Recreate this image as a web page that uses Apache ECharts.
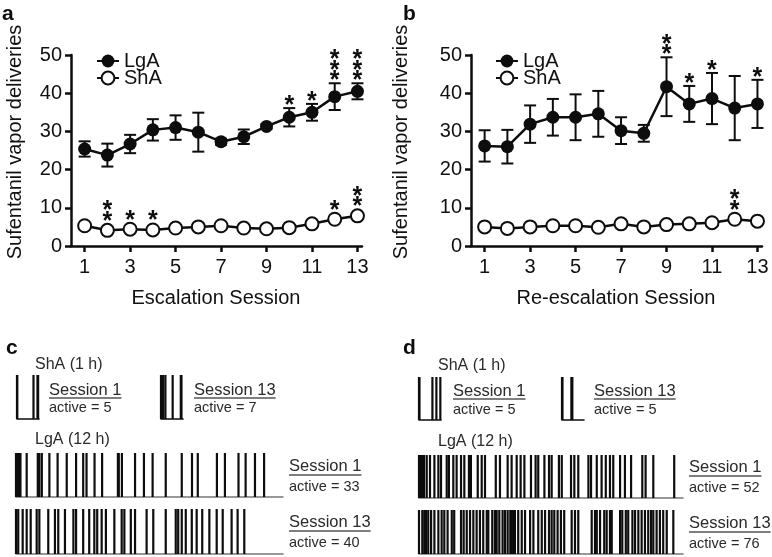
<!DOCTYPE html>
<html><head><meta charset="utf-8">
<script src="https://cdn.jsdelivr.net/npm/echarts@6/dist/echarts.min.js"></script>
<style>html,body{margin:0;padding:0;background:#fff}#c{width:772px;height:557px}</style>
</head><body><div id="c"></div>
<script>
// ---------- data ----------
const sessions = [1,2,3,4,5,6,7,8,9,10,11,12,13];
const xTickLabels = [1,3,5,7,9,11,13];
const yTicks = [0,10,20,30,40,50];

// panel a: escalation
const aLgAMean = [25.4,23.8,26.7,30.4,31.0,29.8,27.3,28.6,31.3,33.7,35.0,39.1,40.5];
const aLgAErr  = [2.0,3.0,2.4,2.8,3.2,5.1,0.8,1.9,0.6,2.4,2.2,3.5,2.1];
const aShAMean = [5.3,4.1,4.4,4.2,4.7,5.0,5.3,4.7,4.5,4.8,5.8,7.0,7.9];
const aLgAStars = [0,0,0,0,0,0,0,0,0,1,1,3,3];
const aShAStars = [0,2,1,1,0,0,0,0,0,0,0,1,2];

// panel b: re-escalation
const bLgAMean = [26.2,26.0,31.9,33.7,33.7,34.6,30.2,29.5,41.7,37.2,38.6,36.1,37.2];
const bLgAErr  = [4.1,4.4,4.9,4.8,6.0,6.0,3.5,2.2,7.7,4.7,6.7,8.4,6.3];
const bShAMean = [5.0,4.6,5.0,5.3,5.3,4.9,5.8,5.0,5.6,5.8,6.1,7.0,6.5];
const bLgAStars = [0,0,0,0,0,0,0,0,2,1,1,0,1];
const bShAStars = [0,0,0,0,0,0,0,0,0,0,0,2,0];

// panel c: event rasters (hours)
const cShA1 = [0,0.01,0.75,0.93,0.96];
const cShA13 = [0,0.05,0.1,0.2,0.53,0.9,0.93];
const cLgA1 = [0,0.05,0.1,0.15,0.2,0.48,0.98,1.05,1.16,1.5,1.87,2.28,2.7,3.02,3.17,3.53,3.87,4.58,4.62,4.76,5.35,5.75,6.14,6.73,7.45,7.91,8.17,9.03,9.39,10.0,10.32,10.74,11.15];
const cLgA13 = [0,0.10,0.30,0.48,0.66,0.93,1.05,1.45,1.75,1.90,2.20,2.58,2.70,3.02,3.29,3.52,3.65,3.85,4.04,4.42,4.75,4.87,5.16,5.35,5.87,6.17,6.73,7.18,7.29,7.45,7.63,7.90,8.12,8.37,8.69,9.02,9.29,9.69,9.96,10.26];

// panel d: event rasters (hours)
const dShA1 = [0,0.02,0.61,0.79,0.97];
const dShA13 = [0,0.02,0.43,0.45,0.47];
const dLgA1 = [0,0.07,0.14,0.23,0.35,0.50,0.70,0.88,1.0,1.26,1.36,1.56,1.71,1.91,2.06,2.27,2.36,2.67,2.85,3.0,3.49,3.68,4.03,4.21,4.44,4.62,4.79,5.09,5.30,5.42,5.70,5.91,6.03,6.36,6.49,6.91,7.06,7.24,7.70,7.82,8.08,8.30,8.49,8.68,8.83,9.14,9.36,9.64,10.15,10.30,10.65,11.6];
const dLgA13 = [0,0.15,0.24,0.32,0.42,0.55,0.70,0.88,1.03,1.15,1.30,1.49,1.60,1.91,2.03,2.17,2.32,2.47,2.62,2.77,2.92,3.08,3.15,3.33,3.45,3.53,3.65,3.80,3.91,4.03,4.15,4.21,4.27,4.36,4.51,4.67,4.82,5.05,5.20,5.42,5.58,5.73,5.91,6.03,6.15,6.30,6.45,6.60,6.94,7.09,7.24,7.85,8.0,8.08,8.23,8.42,8.53,8.68,8.76,9.14,9.24,9.40,9.51,9.70,9.82,9.97,10.12,10.27,10.42,10.55,10.65,10.80,10.95,11.10,11.26,11.56];

// ---------- styling / layout ----------
const FONT = "'Liberation Sans', Arial, Helvetica, sans-serif";
const INK = '#0d0d0d';
const TXT = '#111';
const SUB = '#2a2a2a';

const chart = echarts.init(document.getElementById('c'), null, {renderer:'canvas'});

const grids = [], xAxes = [], yAxes = [], series = [], graphics = [];

function addLinePanel(left, lgaMean, lgaErr, shaMean, lgaStars, shaStars) {
  const gi = grids.length;
  grids.push({left:left, top:55, width:291, height:191});
  xAxes.push({type:'value', gridIndex:gi, min:0.4, max:13.2,
    axisLine:{show:true, onZero:false, lineStyle:{color:INK, width:2.5}},
    axisTick:{show:true, length:6, customValues:xTickLabels, lineStyle:{color:INK, width:2.5}},
    axisLabel:{customValues:xTickLabels, fontSize:20, color:TXT, fontFamily:FONT, margin:11},
    splitLine:{show:false}});
  yAxes.push({type:'value', gridIndex:gi, min:0, max:50, interval:10,
    axisLine:{show:true, onZero:false, lineStyle:{color:INK, width:2.5}},
    axisTick:{show:true, length:6, lineStyle:{color:INK, width:2.5}},
    axisLabel:{fontSize:20, color:TXT, fontFamily:FONT, margin:9},
    splitLine:{show:false}});
  // error bars
  series.push({type:'custom', xAxisIndex:gi, yAxisIndex:gi, z:1, silent:true,
    encode:{x:0, y:1},
    data: sessions.map((s,i)=>[s, lgaMean[i], lgaErr[i]]),
    renderItem:(params, api)=>{
      const x=api.value(0), m=api.value(1), e=api.value(2);
      const t=api.coord([x,m+e]), b=api.coord([x,m-e]);
      const st={stroke:INK, lineWidth:2};
      return {type:'group', children:[
        {type:'line', shape:{x1:t[0],y1:t[1],x2:b[0],y2:b[1]}, style:st},
        {type:'line', shape:{x1:t[0]-6,y1:t[1],x2:t[0]+6,y2:t[1]}, style:st},
        {type:'line', shape:{x1:b[0]-6,y1:b[1],x2:b[0]+6,y2:b[1]}, style:st}]};
    }});
  series.push({name:'LgA', type:'line', xAxisIndex:gi, yAxisIndex:gi, z:3,
    data: sessions.map((s,i)=>[s, lgaMean[i]]),
    symbol:'circle', symbolSize:13, lineStyle:{color:INK, width:2.5},
    itemStyle:{color:INK}});
  series.push({name:'ShA', type:'line', xAxisIndex:gi, yAxisIndex:gi, z:3,
    data: sessions.map((s,i)=>[s, shaMean[i]]),
    symbol:'circle', symbolSize:13, lineStyle:{color:INK, width:2.5},
    itemStyle:{color:'#fff', borderColor:INK, borderWidth:2}});
  // significance stars
  const starData = sessions.map((s,i)=>[s, lgaMean[i], lgaErr[i], lgaStars[i]])
    .concat(sessions.map((s,i)=>[s, shaMean[i], 0, shaStars[i]]))
    .filter(d=>d[3]>0);
  series.push({type:'custom', xAxisIndex:gi, yAxisIndex:gi, z:4, silent:true,
    encode:{x:0, y:1}, data:starData,
    renderItem:(params, api)=>{
      const x=api.value(0), m=api.value(1), e=api.value(2), n=api.value(3);
      const p=api.coord([x,m+e]), c=api.coord([x,m]);
      const base=Math.min(p[1], c[1]-6.5)-8;
      const ch=[];
      for (let k=0;k<n;k++) ch.push({type:'text', style:{text:'*', x:p[0], y:base-k*10.5+6,
        fill:INK, font:"bold 25px "+FONT, align:'center', verticalAlign:'middle'}});
      return {type:'group', children:ch};
    }});
  return gi;
}

addLinePanel(71, aLgAMean, aLgAErr, aShAMean, aLgAStars, aShAStars);
addLinePanel(471, bLgAMean, bLgAErr, bShAMean, bLgAStars, bShAStars);

// rasters
const rasterLayout = [
  {ev:cShA1,  left:17,  top:375, width:22,  height:44, max:1,  base:INK},
  {ev:cShA13, left:161, top:375, width:22,  height:44, max:1,  base:INK},
  {ev:cLgA1,  left:16,  top:453, width:267, height:44, max:12, base:'#777'},
  {ev:cLgA13, left:16,  top:509, width:267, height:45, max:12, base:'#777'},
  {ev:dShA1,  left:419, top:377, width:22,  height:43, max:1,  base:INK},
  {ev:dShA13, left:562, top:377, width:22,  height:43, max:1,  base:INK},
  {ev:dLgA1,  left:419, top:455, width:264, height:43, max:12, base:'#777'},
  {ev:dLgA13, left:419, top:510, width:264, height:44, max:12, base:'#777'}
];
rasterLayout.forEach(r=>{
  const gi=grids.length;
  grids.push({left:r.left, top:r.top, width:r.width, height:r.height});
  xAxes.push({type:'value', gridIndex:gi, min:0, max:r.max,
    axisLine:{show:true, onZero:false, lineStyle:{color:r.base, width:1.6}},
    axisTick:{show:false}, axisLabel:{show:false}, splitLine:{show:false}});
  yAxes.push({type:'value', gridIndex:gi, min:0, max:1, show:false});
  series.push({type:'bar', xAxisIndex:gi, yAxisIndex:gi, barWidth:2.2, clip:false, silent:true,
    itemStyle:{color:INK}, data:r.ev.map(t=>[t,1])});
});

// text helpers
const ctx=document.createElement('canvas').getContext('2d');
function textW(t, size){ ctx.font=size+'px '+FONT; return ctx.measureText(t).width; }
function txt(t, x, y, size, opts){
  opts=opts||{};
  graphics.push({type:'text', x:x, y:y, rotation:opts.rot||0, silent:true,
    style:{text:t, font:(opts.bold?'bold ':'')+size+'px '+FONT, fill:opts.fill||TXT,
      align:opts.align||'left', verticalAlign:'middle'}});
}
function ul(t, x, y, size, lineY){
  txt(t, x, y, size, {fill:SUB});
  graphics.push({type:'line', silent:true, shape:{x1:x, y1:lineY, x2:x+textW(t,size), y2:lineY},
    style:{stroke:'#555', lineWidth:1.5}});
}

txt('a', 2, 14, 21, {bold:true, fill:INK});
txt('b', 403, 14, 21, {bold:true, fill:INK});
txt('c', 6, 348, 21, {bold:true, fill:INK});
txt('d', 403, 348, 21, {bold:true, fill:INK});
txt('Sufentanil vapor deliveries', 15, 142, 20, {align:'center', rot:Math.PI/2});
txt('Sufentanil vapor deliveries', 401, 142, 20, {align:'center', rot:Math.PI/2});
txt('Escalation Session', 216, 298, 20, {align:'center'});
txt('Re-escalation Session', 616, 298, 20, {align:'center'});

// panel c labels
txt('ShA (1 h)', 35, 365, 16, {fill:SUB});
ul('Session 1', 49, 390, 16.5, 398);   txt('active = 5', 49, 408, 14.5, {fill:SUB});
ul('Session 13', 194, 390, 16.5, 398); txt('active = 7', 194, 408, 14.5, {fill:SUB});
txt('LgA (12 h)', 35, 440, 16, {fill:SUB});
ul('Session 1', 289, 466, 16.5, 475);  txt('active = 33', 289, 487, 14.5, {fill:SUB});
ul('Session 13', 289, 522, 16.5, 531); txt('active = 40', 289, 543, 14.5, {fill:SUB});
// panel d labels
txt('ShA (1 h)', 438, 366, 16, {fill:SUB});
ul('Session 1', 453, 391, 16.5, 399);  txt('active = 5', 453, 410, 14.5, {fill:SUB});
ul('Session 13', 594, 391, 16.5, 399); txt('active = 5', 594, 410, 14.5, {fill:SUB});
txt('LgA (12 h)', 438, 442, 16, {fill:SUB});
ul('Session 1', 689, 467, 16.5, 476);  txt('active = 52', 689, 488, 14.5, {fill:SUB});
ul('Session 13', 689, 523, 16.5, 532); txt('active = 76', 689, 544, 14.5, {fill:SUB});

function legend(name, left, top) {
  return {data:[name], left:left, top:top, padding:0, orient:'vertical', itemWidth:22, itemHeight:16,
    selectedMode:false, textStyle:{fontSize:20, color:TXT, fontFamily:FONT}};
}

chart.setOption({
  animation:false,
  backgroundColor:'#fff',
  grid:grids, xAxis:xAxes, yAxis:yAxes, series:series,
  legend:[legend('LgA',96,51), legend('ShA',96,68), legend('LgA',495,51), legend('ShA',495,68)],
  graphic:graphics
});
</script></body></html>
